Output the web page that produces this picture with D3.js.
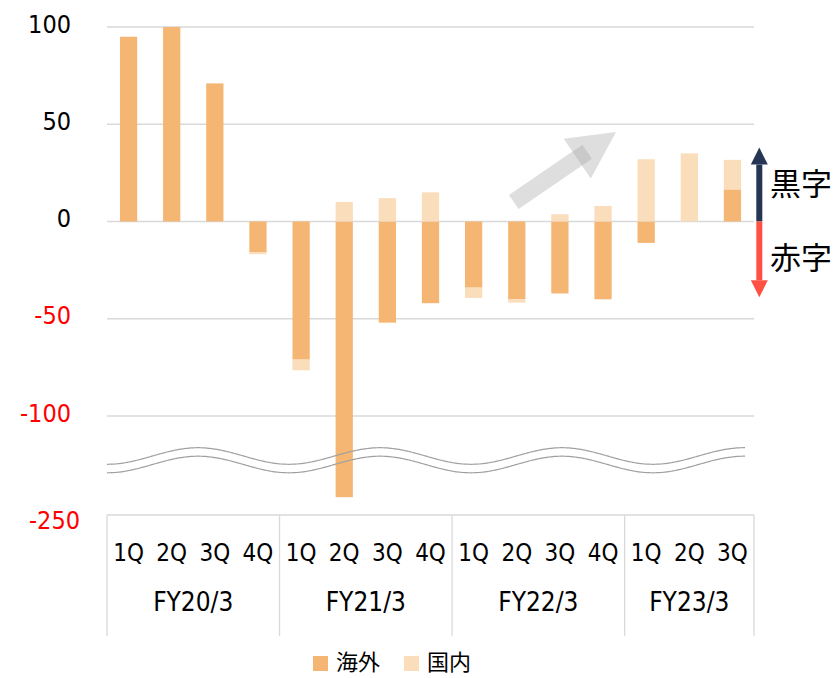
<!DOCTYPE html>
<html>
<head>
<meta charset="utf-8">
<script src="https://cdn.jsdelivr.net/npm/d3@7"></script>
<style>
  body { margin: 0; background: #fff; }
  text { font-family: "DejaVu Sans Condensed", "DejaVu Sans", "Noto Sans CJK JP", sans-serif; }
  .jp { font-family: "Noto Sans CJK JP", sans-serif; }
</style>
</head>
<body>
<div id="chart"></div>
<script>
// data
let years = ["FY20/3", "FY21/3", "FY22/3", "FY23/3"];
let quarters = [
  ["1Q", "2Q", "3Q", "4Q"],
  ["1Q", "2Q", "3Q", "4Q"],
  ["1Q", "2Q", "3Q", "4Q"],
  ["1Q", "2Q", "3Q"]
];
let overseas = [95, 100, 71, -15.8, -71, -223, -52, -42, -34, -40, -37, -40, -11, 0, 16.5];
let domestic = [0, 0, 0, -1, -5.5, 10, 12, 15, -5.3, -1.7, 3.7, 8, 32, 35, 15.2];
let seriesNames = ["海外", "国内"];
let yTicks = [100, 50, 0, -50, -100, -250];

let width = 834, height = 678;
let plot = {left: 107, right: 754, top: 27, axis: 515};

let rows = [];
quarters.forEach(function(qs, i) {
  qs.forEach(function(q) {
    let k = rows.length;
    rows.push({key: years[i] + " " + q, year: years[i], q: q, "海外": overseas[k], "国内": domestic[k]});
  });
});

let svg = d3.select("#chart").append("svg")
    .attr("width", width)
    .attr("height", height);

let x = d3.scaleBand()
    .domain(rows.map(function(d) { return d.key; }))
    .range([plot.left, plot.right])
    .paddingInner(0.6)
    .paddingOuter(0.3);

// broken axis: -100..-250 squeezed into the bottom strip
let y = d3.scaleLinear()
    .domain([-250, -100, 100])
    .range([plot.axis, 416, plot.top]);

let color = d3.scaleOrdinal()
    .domain(seriesNames)
    .range(["#F4B672", "#FADDBB"]);

// gridlines
svg.append("g")
  .selectAll("line")
  .data(yTicks.filter(function(d) { return d > -250; }))
  .enter().append("line")
    .attr("x1", plot.left)
    .attr("x2", plot.right)
    .attr("y1", function(d) { return y(d); })
    .attr("y2", function(d) { return y(d); })
    .attr("stroke", "#d9d9d9")
    .attr("stroke-width", 1.3);

// y axis labels (plain hyphen, like the original)
let yAxis = svg.append("g")
    .attr("transform", "translate(" + plot.left + ",0)")
    .call(d3.axisLeft(y).tickValues(yTicks).tickSize(0).tickPadding(36)
      .tickFormat(function(d) { return String(d); }));
yAxis.select(".domain").remove();
yAxis.selectAll("text")
    .style("font-size", "25px")
    .attr("font-family", null)
    .attr("fill", function(d) { return d < 0 ? "#FF0000" : "#000"; })
    .attr("dy", function(d) { return d === -250 ? "0.55em" : "0.2em"; })
    .attr("x", function(d) { return d === -250 ? -27 : -36; });

// stacked bars
let stacked = d3.stack()
    .keys(seriesNames)
    .offset(d3.stackOffsetDiverging)(rows);

svg.append("g")
  .selectAll("g")
  .data(stacked)
  .enter().append("g")
    .attr("fill", function(d) { return color(d.key); })
  .selectAll("rect")
  .data(function(d) { return d; })
  .enter().append("rect")
    .attr("x", function(d) { return x(d.data.key); })
    .attr("width", x.bandwidth())
    .attr("y", function(d) { return y(Math.max(d[0], d[1])); })
    .attr("height", function(d) { return Math.abs(y(d[0]) - y(d[1])); });

// wavy break marks
let waveY = y(-100) + 40;
let period = 182;
let wave = d3.line()
    .x(function(d) { return d; })
    .curve(d3.curveBasis);
[0, 8.5].forEach(function(off) {
  svg.append("path")
      .attr("fill", "none")
      .attr("stroke", "#a0a0a0")
      .attr("stroke-width", 1.2)
      .attr("d", wave.y(function(px) {
        return waveY + off - 8.3 * Math.sin(2 * Math.PI * (px - plot.left - period / 4) / period);
      })(d3.range(plot.left, 747, 2)));
});

// category axis box
let cat = svg.append("g");
cat.append("line")
    .attr("x1", plot.left).attr("x2", plot.right)
    .attr("y1", plot.axis).attr("y2", plot.axis)
    .attr("stroke", "#d9d9d9").attr("stroke-width", 1.3);

let groupEdges = years.map(function(yr) {
  let ks = rows.filter(function(r) { return r.year === yr; });
  return {
    year: yr,
    x0: x(ks[0].key) - x.step() * x.paddingOuter(),
    x1: x(ks[ks.length - 1].key) + x.bandwidth() + x.step() * x.paddingOuter()
  };
});
let edges = [plot.left].concat(groupEdges.map(function(g) { return g.x1; }));
edges[edges.length - 1] = plot.right;

cat.selectAll(".sep")
  .data(edges)
  .enter().append("line")
    .attr("x1", function(d) { return d; })
    .attr("x2", function(d) { return d; })
    .attr("y1", plot.axis)
    .attr("y2", 636)
    .attr("stroke", "#d9d9d9")
    .attr("stroke-width", 1.3);

cat.selectAll(".q")
  .data(rows)
  .enter().append("text")
    .attr("x", function(d) { return x(d.key) + x.bandwidth() / 2; })
    .attr("y", 553)
    .attr("dy", "0.35em")
    .attr("text-anchor", "middle")
    .style("font-size", "24px")
    .text(function(d) { return d.q; });

cat.selectAll(".yr")
  .data(groupEdges)
  .enter().append("text")
    .attr("x", function(d, i) { return (edges[i] + edges[i + 1]) / 2; })
    .attr("y", 602)
    .attr("dy", "0.35em")
    .attr("text-anchor", "middle")
    .style("font-size", "26px")
    .text(function(d) { return d.year; });

// trend arrow (semi-transparent grey)
let tail = [x("FY22/3 2Q") + x.bandwidth() / 2 - 3, y(10)];
let tip = [x("FY22/3 4Q") + x.bandwidth() / 2 + 13, y(46)];
let dx = tip[0] - tail[0], dy = tip[1] - tail[1];
let len = Math.sqrt(dx * dx + dy * dy);
let ux = dx / len, uy = dy / len, px = -uy, py = ux;
let headLen = 47, headHalf = 24, shaftHalf = 8.5;
let base = [tip[0] - ux * headLen, tip[1] - uy * headLen];
let shaftEnd = [base[0] + ux * 12, base[1] + uy * 12];
let arrowG = svg.append("g").attr("fill", "#a4a4a4").attr("fill-opacity", 0.36);
arrowG.append("polygon")
    .attr("points", [
      [tail[0] + px * shaftHalf, tail[1] + py * shaftHalf],
      [shaftEnd[0] + px * shaftHalf, shaftEnd[1] + py * shaftHalf],
      [shaftEnd[0] - px * shaftHalf, shaftEnd[1] - py * shaftHalf],
      [tail[0] - px * shaftHalf, tail[1] - py * shaftHalf]
    ].join(" "));
arrowG.append("polygon")
    .attr("points", [
      tip,
      [base[0] + px * headHalf, base[1] + py * headHalf],
      [base[0] - px * headHalf, base[1] - py * headHalf]
    ].join(" "));

// profit / loss arrows
let ax = plot.right + 5.3;
function vArrow(fromV, toV, fill) {
  let y0 = y(fromV), y1 = y(toV);
  let dir = y1 < y0 ? 1 : -1;
  let hb = y1 + dir * 17;
  svg.append("rect")
      .attr("x", ax - 3).attr("width", 6)
      .attr("y", Math.min(y0, hb)).attr("height", Math.abs(hb - y0))
      .attr("fill", fill);
  svg.append("polygon")
      .attr("points", [[ax, y1], [ax - 8.5, hb], [ax + 8.5, hb]].join(" "))
      .attr("fill", fill);
}
vArrow(0, 38, "#253553");
vArrow(0, -39, "#FF5044");

svg.append("text").attr("class", "jp")
    .attr("x", 770).attr("y", y(19)).attr("dy", "0.35em")
    .style("font-size", "31px")
    .text("黒字");
svg.append("text").attr("class", "jp")
    .attr("x", 770).attr("y", y(-19)).attr("dy", "0.35em")
    .style("font-size", "31px")
    .text("赤字");

// legend
let legend = svg.append("g")
  .selectAll("g")
  .data(seriesNames)
  .enter().append("g")
    .attr("transform", function(d, i) { return "translate(" + (313 + i * 91) + ",656)"; });
legend.append("rect")
    .attr("width", 15).attr("height", 15)
    .attr("fill", function(d) { return color(d); });
legend.append("text").attr("class", "jp")
    .attr("x", 23).attr("y", 6).attr("dy", "0.35em")
    .style("font-size", "22px")
    .text(function(d) { return d; });
</script>
</body>
</html>
